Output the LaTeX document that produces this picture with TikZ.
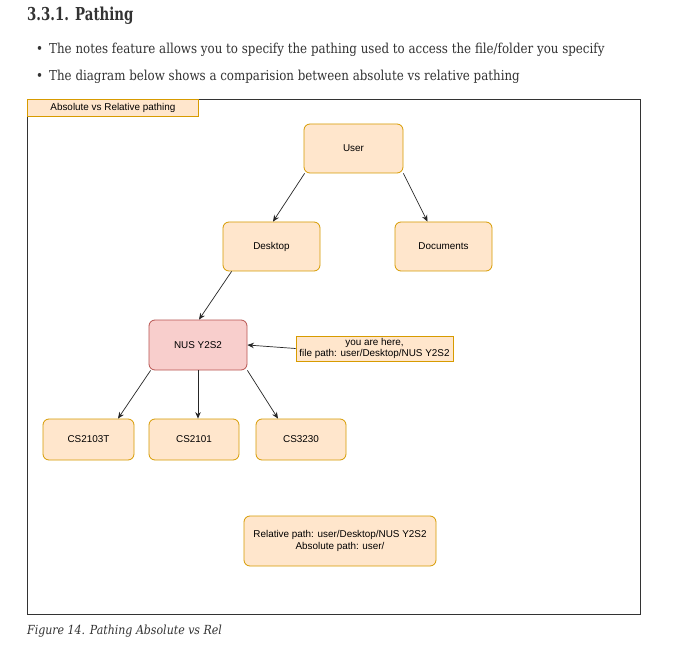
\documentclass[tikz,border=0pt]{standalone}
\usepackage{fontspec}
\setmainfont{DejaVu Serif}[FakeStretch=0.865]
\newfontfamily\headfont{DejaVu Serif}[FakeStretch=0.75]
\newfontfamily\capfont{DejaVu Serif}[FakeStretch=0.88]
\newfontfamily\dio{Liberation Sans}
\usetikzlibrary{calc,arrows.meta}
\definecolor{txt}{HTML}{333333}
\definecolor{ofill}{HTML}{FFE6CC}
\definecolor{odraw}{HTML}{D79B00}
\definecolor{rfill}{HTML}{F8CECC}
\definecolor{rdraw}{HTML}{B85450}
\begin{document}
\begin{tikzpicture}[x=1pt,y=-1pt,
  box/.style={draw=odraw,fill=ofill,rounded corners=6pt,line width=0.8pt,inner sep=0pt,font=\dio\fontsize{9.9}{11.5}\selectfont,align=center},
  redbox/.style={box,draw=rdraw,fill=rfill},
  note/.style={draw=odraw,fill=ofill,line width=0.8pt,inner sep=0pt,font=\dio\fontsize{9.9}{11.5}\selectfont,align=center},
  arr/.style={-{Stealth[length=6.5pt,width=5.5pt]},line width=0.7pt,black!85}]
\useasboundingbox (0,0) rectangle (675,663);
\fill[white] (0,0) rectangle (675,663);
% header text
\node[anchor=base west,inner sep=0pt,text=txt,font=\headfont\bfseries\fontsize{17.8}{20}\selectfont] (h) at (27,20.5) {3.3.1. Pathing};
\node[anchor=base west,inner sep=0pt,text=txt,font=\fontsize{13.7}{15}\selectfont] (b1) at (36,54) {\textbullet\hspace{6pt}The notes feature allows you to specify the pathing used to access the file/folder you specify};
\node[anchor=base west,inner sep=0pt,text=txt,font=\fontsize{13.7}{15}\selectfont] (b2) at (36,81) {\textbullet\hspace{6pt}The diagram below shows a comparision between absolute vs relative pathing};
% frame
\node[draw=black!80,line width=0.9pt,minimum width=613pt,minimum height=515pt,inner sep=0pt,anchor=north west] (frame) at (27,99) {};
\node[note,minimum width=171pt,minimum height=17pt,anchor=north west] (tab) at (27,99) {Absolute vs Relative pathing};
% nodes
\node[box,minimum width=99pt,minimum height=49pt] (user) at (353.5,148.5) {User};
\node[box,minimum width=97pt,minimum height=49pt] (desk) at (271.5,246.5) {Desktop};
\node[box,minimum width=97pt,minimum height=49pt] (docs) at (443.5,246.5) {Documents};
\node[redbox,minimum width=98pt,minimum height=50pt] (nus) at (198,345) {NUS Y2S2};
\node[note,minimum width=157pt,minimum height=25pt] (here) at (374.5,348.5) {you are here,\\file path: user/Desktop/NUS Y2S2};
\node[box,minimum width=91pt,minimum height=41pt] (c1) at (88.5,439.5) {CS2103T};
\node[box,minimum width=90pt,minimum height=41pt] (c2) at (194,439.5) {CS2101};
\node[box,minimum width=90pt,minimum height=41pt] (c3) at (301,439.5) {CS3230};
\node[box,minimum width=192pt,minimum height=50pt] (rel) at (340,541) {Relative path: user/Desktop/NUS Y2S2\\Absolute path: user/};
% arrows
\draw[arr] ($(user.south west)+(1,0)$) -- ($(desk.north)+(1.5,0)$);
\draw[arr] (user.south east) -- ($(docs.north)+(-16,0)$);
\draw[arr] ($(desk.south west)+(9,0)$) -- ($(nus.north)+(1,0)$);
\draw[arr] ($(nus.south west)+(2,0)$) -- ($(c1.north)+(29.5,0)$);
\draw[arr] (nus.south) -- ($(c2.north)+(4,0)$);
\draw[arr] (nus.south east) -- ($(c3.north)+(-23,0)$);
\draw[arr] (here.west) -- (nus.east);
% caption
\node[anchor=base west,inner sep=0pt,text=txt,font=\capfont\itshape\fontsize{12.5}{15}\selectfont] (cap) at (27,634) {Figure 14. Pathing Absolute vs Rel};
\end{tikzpicture}
\end{document}
